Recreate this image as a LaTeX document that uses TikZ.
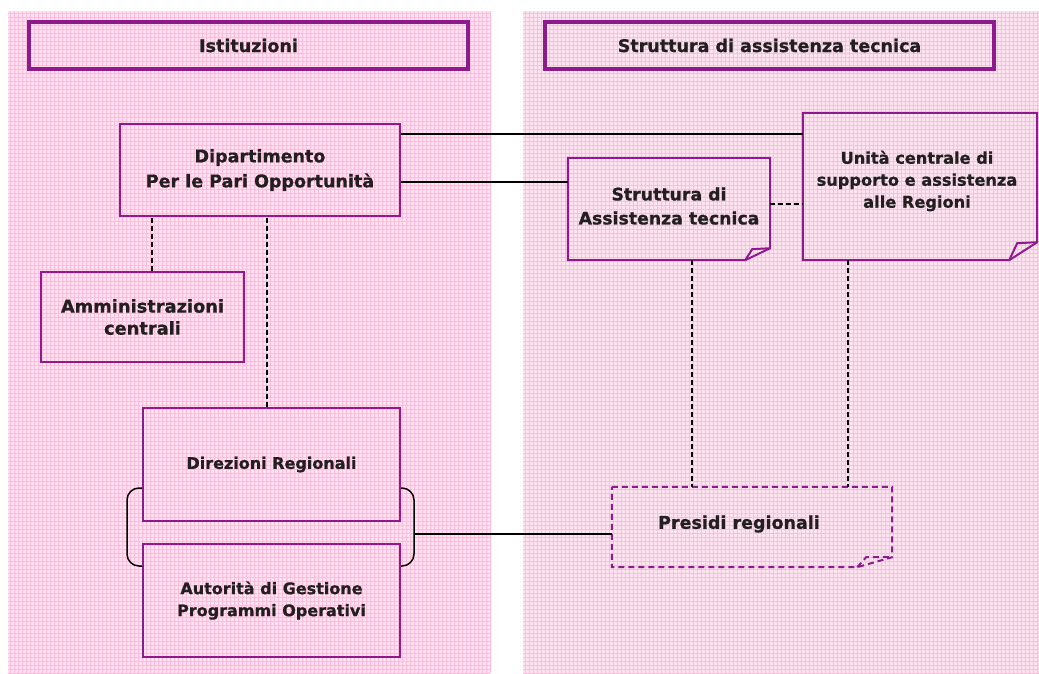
\documentclass[tikz,border=0pt]{standalone}
\usepackage{fontspec}
\setmainfont{DejaVu Sans}[BoldFeatures={FakeBold=0.8}]
\usetikzlibrary{calc}
\definecolor{pbord}{HTML}{8E1B8E}
\definecolor{pinkbg}{HTML}{FFE3F1}
\definecolor{pinkgrid}{HTML}{FFBBDC}
\definecolor{txt}{HTML}{231F20}
\begin{document}
\begin{tikzpicture}[x=1pt,y=-1pt,
  titlebox/.style={draw=pbord, line width=3.5pt, minimum width=#1, minimum height=47pt, inner sep=0pt, font=\fontsize{17.5}{20}\selectfont\bfseries, text=txt},
  box/.style={draw=pbord, line width=2pt, inner sep=0pt, align=center, text=txt},
  fbox/.style={inner sep=0pt},
  lbl/.style={align=center, text=txt, inner sep=0pt},
  fold/.style={draw=pbord, line width=2pt, line join=miter},
  conn/.style={draw=black, line width=1.3pt},
  dconn/.style={draw=black, line width=1.3pt, dash pattern=on 5pt off 3pt},
  bigf/.style={font=\fontsize{17.5}{25}\selectfont\bfseries},
  midf/.style={font=\fontsize{16}{22}\selectfont\bfseries}]
\useasboundingbox (0,0) rectangle (1039,673);
% panels
\fill[pinkbg] (8,11) rectangle (490,673);
\fill[pinkbg] (523,11) rectangle (1039,673);
\foreach \x in {10,14,...,490} \draw[pinkgrid, line width=1pt] (\x,11) -- (\x,673);
\foreach \y in {13,17,...,673} \draw[pinkgrid, line width=1pt] (8,\y) -- (490,\y);
\foreach \x in {525,529,...,1039} \draw[pinkgrid, line width=1pt] (\x,11) -- (\x,673);
\foreach \y in {13,17,...,673} \draw[pinkgrid, line width=1pt] (523,\y) -- (1039,\y);
% titles
\node[titlebox=439pt] (t1) at (248.5,45.5) {Istituzioni};
\node[titlebox=449pt] (t2) at (769.5,45.5) {Struttura di assistenza tecnica};
% left boxes
\node[box, bigf, minimum width=280pt, minimum height=92pt] (dept) at (260,170) {Dipartimento\\Per le Pari Opportunità};
\node[box, font=\fontsize{17.8}{22}\selectfont\bfseries, minimum width=203pt, minimum height=90pt] (amm) at (142.5,317) {Amministrazioni\\centrali};
\node[box, font=\fontsize{16}{22}\selectfont\bfseries, minimum width=257pt, minimum height=113pt] (dir) at (271.5,464.5) {Direzioni Regionali};
\node[box, midf, minimum width=257pt, minimum height=113pt] (aut) at (271.5,600.5) {Autorità di Gestione\\Programmi Operativi};
% right boxes (folded corners)
\node[fbox, minimum width=202pt, minimum height=102pt,
  label={[lbl, font=\fontsize{17.3}{24}\selectfont\bfseries, yshift=3pt]center:Struttura di\\Assistenza tecnica}] (sat) at (669,209) {};
\node[fbox, minimum width=234pt, minimum height=147pt,
  label={[lbl, font=\fontsize{16.2}{22}\selectfont\bfseries, xshift=-3pt, yshift=5.5pt]center:Unità centrale di\\supporto e assistenza\\alle Regioni}] (unita) at (920,186.5) {};
\node[fbox, minimum width=280pt, minimum height=80pt,
  label={[lbl, font=\fontsize{17.5}{22}\selectfont\bfseries, xshift=-13pt, yshift=3pt]center:Presidi regionali}] (pres) at (752,527) {};
% outlines of folded boxes
\draw[fold] (sat.north west) -- (sat.north east) -- ($(sat.south east)+(0,-12)$) -- ($(sat.south east)+(-25,0)$) -- (sat.south west) -- cycle;
\draw[fold] ($(sat.south east)+(-25,0)$) -- ($(sat.south east)+(-18,-11)$) -- ($(sat.south east)+(0,-12)$);
\draw[fold] (unita.north west) -- (unita.north east) -- ($(unita.south east)+(0,-18)$) -- ($(unita.south east)+(-28,0)$) -- (unita.south west) -- cycle;
\draw[fold] ($(unita.south east)+(-28,0)$) -- ($(unita.south east)+(-20,-17)$) -- ($(unita.south east)+(0,-18)$);
\draw[fold, dash pattern=on 6pt off 4pt] (pres.north west) -- (pres.north east) -- ($(pres.south east)+(0,-10)$) -- ($(pres.south east)+(-35,0)$) -- (pres.south west) -- cycle;
\draw[fold, dash pattern=on 6pt off 4pt] ($(pres.south east)+(-35,0)$) -- ($(pres.south east)+(-26,-10)$) -- ($(pres.south east)+(0,-10)$);
% connectors
\draw[conn] ($(dept.north east)+(0,11)$) coordinate (c1) -- (c1 -| unita.west);
\draw[conn] ($(dept.south east)+(0,-35)$) coordinate (c2) -- (c2 -| sat.west);
\draw[dconn] ($(amm.north west)+(112,0)$) coordinate (d1) -- (d1 |- dept.south);
\draw[dconn] ($(dir.north)+(-4.5,0)$) coordinate (d2) -- (d2 |- dept.south);
\draw[dconn] ($(sat.east)+(0,-5)$) coordinate (d3) -- (d3 -| unita.west);
\draw[dconn] ($(sat.south)+(23,0)$) coordinate (d4) -- (d4 |- pres.north);
\draw[dconn] ($(unita.south)+(-72,0)$) coordinate (d5) -- (d5 |- pres.north);
% braces
\draw[line width=1.5pt, black, rounded corners=12pt] ($(dir.south west)+(0,-34)$) -- ++(-15,0) -- ($(aut.north west)+(-15,23)$) -- ($(aut.north west)+(0,23)$);
\draw[line width=1.5pt, black, rounded corners=12pt] ($(dir.south east)+(0,-34)$) -- ++(13,0) -- ($(aut.north east)+(13,23)$) -- ($(aut.north east)+(0,23)$);
\draw[conn] ($(dir.south east)+(13,12)$) coordinate (b1) -- (b1 -| pres.west);
\end{tikzpicture}
\end{document}
